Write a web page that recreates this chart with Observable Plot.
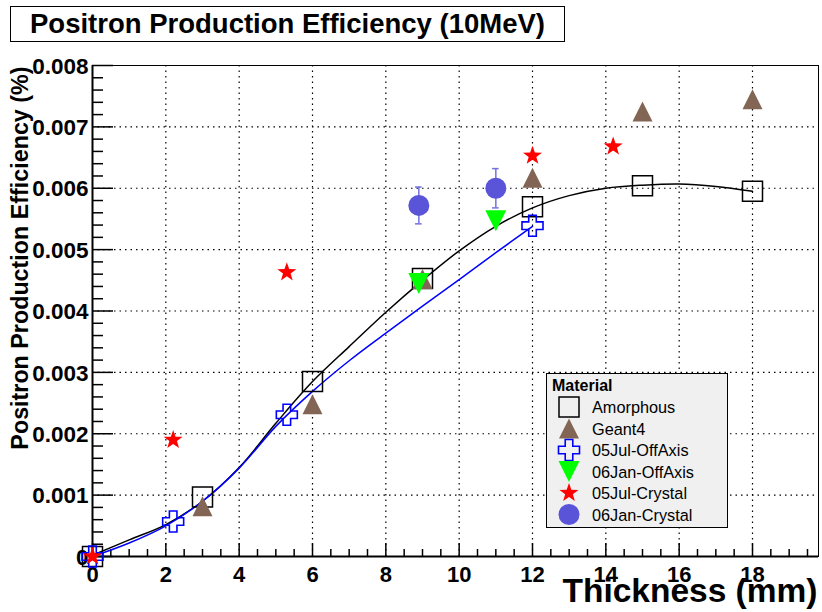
<!DOCTYPE html>
<html><head><meta charset="utf-8">
<script src="https://cdn.jsdelivr.net/npm/d3@7"></script>
<script src="https://cdn.jsdelivr.net/npm/@observablehq/plot@0.6"></script>
<style>
body{margin:0;background:#fff;}
#wrap{position:relative;width:822px;height:612px;overflow:hidden;font-family:"Liberation Sans",Arial,Helvetica,sans-serif;}
#wrap svg{position:absolute;left:0;top:0;}
#title{position:absolute;left:10px;top:6px;width:553px;height:34px;border:1px solid #000;background:#fff;font-weight:bold;font-size:27.5px;line-height:34px;text-align:center;color:#000;}
#legend{position:absolute;left:546px;top:373px;width:180px;height:153px;border:1px solid #000;background:#f0f0f0;}
#legend svg{position:absolute;left:0;top:0;}
</style></head>
<body><div id="wrap"><div id="title">Positron Production Efficiency (10MeV)</div></div>
<script>
// ---------- data ----------
const amorphX = [0, 3, 6, 9, 12, 15, 18];
const amorphY = [0.00000, 0.00097, 0.00285, 0.00453, 0.00570, 0.00604, 0.00595];
const geantX = [3, 6, 9, 12, 15, 18];
const geantY = [0.00082, 0.00248, 0.00452, 0.00617, 0.00725, 0.00745];
const jul05OffX = [0, 2.2, 5.3, 12];
const jul05OffY = [0.00000, 0.00057, 0.00231, 0.00539];
const jan06OffX = [8.9, 11];
const jan06OffY = [0.00445, 0.00547];
const jul05CrysX = [0, 2.2, 5.3, 12, 14.2];
const jul05CrysY = [0.00000, 0.00190, 0.00463, 0.00653, 0.00668];
const jan06CrysX = [8.9, 11];
const jan06CrysY = [0.00572, 0.00600];
const jan06CrysErr = [0.00030, 0.00032];
// fitted curves
const fitBlackX = [0,1,2,3,4,5,6,7,8,9,10,11,12,13,14,15,16,17,18];
const fitBlackY = [0.00002,0.00027,0.00052,0.00090,0.00145,0.00217,0.00285,0.00342,0.00398,0.00450,0.00498,0.00538,0.00568,0.00588,0.00600,0.00605,0.00607,0.00603,0.00595];
const fitBlueX = [0,1,2,3,4,5,6,7,8,9,10,11,12];
const fitBlueY = [0.00000,0.00022,0.00050,0.00090,0.00144,0.00212,0.00269,0.00319,0.00364,0.00408,0.00451,0.00495,0.00538];
// ticks
const xMajor = [0,2,4,6,8,10,12,14,16,18];
const xMinor = d3.range(0.5, 19.8, 0.5).filter(d => d % 2 !== 0);
const yMajor = [0,0.001,0.002,0.003,0.004,0.005,0.006,0.007,0.008];
const yMinor = d3.range(1, 40).filter(i => i % 5 !== 0).map(i => i * 0.0002);
const legendLabels = ["Amorphous","Geant4","05Jul-OffAxis","06Jan-OffAxis","05Jul-Crystal","06Jan-Crystal"];

// ---------- symbols (ROOT-like, bbox centred) ----------
const rOf = size => Math.sqrt(size / Math.PI);
const symSquare = {draw(c, size){ const s = rOf(size); c.moveTo(-s,-s); c.lineTo(s,-s); c.lineTo(s,s); c.lineTo(-s,s); c.closePath(); }};
const symTriUp = {draw(c, size){ const s = rOf(size); c.moveTo(0,-s); c.lineTo(s,s); c.lineTo(-s,s); c.closePath(); }};
const symTriDown = {draw(c, size){ const s = rOf(size); c.moveTo(0,s); c.lineTo(s,-s); c.lineTo(-s,-s); c.closePath(); }};
const symCross = {draw(c, size){ const s = rOf(size), w = s*0.36;
  const p = [[-w,-s],[w,-s],[w,-w],[s,-w],[s,w],[w,w],[w,s],[-w,s],[-w,w],[-s,w],[-s,-w],[-w,-w]];
  c.moveTo(p[0][0],p[0][1]); for (let i=1;i<p.length;i++) c.lineTo(p[i][0],p[i][1]); c.closePath(); }};
const symStar = {draw(c, size){ const s = rOf(size), ri = s*0.40;
  for (let i=0;i<10;i++){ const r = i%2 ? ri : s; const a = -Math.PI/2 + i*Math.PI/5;
    const x = r*Math.cos(a), y = r*Math.sin(a); if (i===0) c.moveTo(x,y); else c.lineTo(x,y);} c.closePath(); }};
const symCircle = {draw(c, size){ const s = rOf(size); c.moveTo(s,0); c.arc(0,0,s,0,2*Math.PI); }};

const styles = [
  {symbol: symSquare, r: 10, fill: "none", stroke: "#000", strokeWidth: 1.5},
  {symbol: symTriUp, r: 10, fill: "#836556", stroke: "none"},
  {symbol: symCross, r: 10.5, fill: "none", stroke: "#0000ff", strokeWidth: 1.6},
  {symbol: symTriDown, r: 10.5, fill: "#00ff00", stroke: "none"},
  {symbol: symStar, r: 10, fill: "#ff0000", stroke: "none"},
  {symbol: symCircle, r: 10.5, fill: "#5954d8", stroke: "none"}
];

const pts = (X, Y) => X.map((x, i) => [x, Y[i]]);
const frameH = 612 - 65 - 56, frameW = 822 - 92 - 4;
const fmtY = d => d === 0 ? "0" : d.toFixed(3);

const chart = Plot.plot({
  width: 822, height: 612,
  marginLeft: 92, marginRight: 4, marginTop: 65, marginBottom: 56,
  style: {fontFamily: "Liberation Sans, Arial, Helvetica, sans-serif", background: "transparent", overflow: "visible", color: "#000"},
  x: {domain: [0, 19.8], axis: null},
  y: {domain: [0, 0.008], axis: null},
  marks: [
    // grid
    Plot.ruleX(xMajor.filter(d => d > 0), {x: d => d, stroke: "#000", strokeWidth: 1.2, strokeDasharray: "1.5,4"}),
    Plot.ruleY(yMajor.filter(d => d > 0 && d < 0.008), {y: d => d, stroke: "#000", strokeWidth: 1.2, strokeDasharray: "1.5,4"}),
    Plot.frame({stroke: "#000", strokeWidth: 1}),
    // ticks (inside)
    Plot.ruleX(xMajor, {x: d => d, insetTop: frameH - 13, stroke: "#000", strokeWidth: 1.5}),
    Plot.ruleX(xMinor, {x: d => d, insetTop: frameH - 7, stroke: "#000", strokeWidth: 1.5}),
    Plot.ruleY(yMajor, {y: d => d, insetRight: frameW - 21, stroke: "#000", strokeWidth: 1.5}),
    Plot.ruleY(yMinor, {y: d => d, insetRight: frameW - 11, stroke: "#000", strokeWidth: 1.5}),
    Plot.ruleX([0], {x: d => d, stroke: "#000", strokeWidth: 2}),
    Plot.ruleY([0], {y: d => d, stroke: "#000", strokeWidth: 2}),
    // tick labels
    Plot.text(xMajor, {x: d => d, frameAnchor: "bottom", dy: 10, lineAnchor: "top", textAnchor: "middle", text: d => String(d), fontSize: 22, fontWeight: "bold", fill: "#000"}),
    Plot.text(yMajor, {y: d => d, frameAnchor: "left", dx: -4, dy: 1, lineAnchor: "middle", textAnchor: "end", text: fmtY, fontSize: 22.5, fontWeight: "bold", fill: "#000"}),
    // axis titles
    Plot.text(["Thickness (mm)"], {frameAnchor: "bottom-right", dx: -1, dy: 45, textAnchor: "end", lineAnchor: "bottom", fontSize: 33.5, fontWeight: "bold", fill: "#000"}),
    Plot.text(["Positron Production Efficiency (%)"], {frameAnchor: "top-left", dx: -65, dy: 1, rotate: -90, textAnchor: "end", lineAnchor: "bottom", fontSize: 23.3, fontWeight: "bold", fill: "#000"}),
    // fit curves
    Plot.line(pts(fitBlackX, fitBlackY), {stroke: "#000", strokeWidth: 1.5, curve: "catmull-rom"}),
    Plot.line(pts(fitBlueX, fitBlueY), {stroke: "#0000ff", strokeWidth: 1.5, curve: "catmull-rom"}),
    // points
    Plot.dot(pts(amorphX, amorphY), {x: d => d[0], y: d => d[1], ...styles[0]}),
    Plot.dot(pts(geantX, geantY), {x: d => d[0], y: d => d[1], ...styles[1]}),
    Plot.dot(pts(jul05OffX, jul05OffY), {x: d => d[0], y: d => d[1], ...styles[2]}),
    Plot.dot(pts(jan06OffX, jan06OffY), {x: d => d[0], y: d => d[1], ...styles[3]}),
    Plot.dot(pts(jul05CrysX, jul05CrysY), {x: d => d[0], y: d => d[1], ...styles[4]}),
    // error bars + circles
    Plot.ruleX(jan06CrysX.map((x, i) => [x, jan06CrysY[i], jan06CrysErr[i]]), {x: d => d[0], y1: d => d[1] - d[2], y2: d => d[1] + d[2], stroke: "#7471e0", strokeWidth: 1.5}),
    Plot.ruleY(jan06CrysX.flatMap((x, i) => [[x, jan06CrysY[i] - jan06CrysErr[i]], [x, jan06CrysY[i] + jan06CrysErr[i]]]), {y: d => d[1], x1: d => d[0] - 0.09, x2: d => d[0] + 0.09, stroke: "#7471e0", strokeWidth: 1.5}),
    Plot.dot(pts(jan06CrysX, jan06CrysY), {x: d => d[0], y: d => d[1], ...styles[5]})
  ]
});
const wrap = document.getElementById("wrap");
wrap.insertBefore(chart, wrap.firstChild);

// ---------- legend ----------
const leg = document.createElement("div");
leg.id = "legend";
wrap.appendChild(leg);
const lsvg = d3.select(leg).append("svg").attr("width", 180).attr("height", 153)
  .style("font-family", "Liberation Sans, Arial, Helvetica, sans-serif");
lsvg.append("text").attr("x", 5).attr("y", 17).attr("font-size", 16).attr("font-weight", "bold").attr("fill", "#000").text("Material");
legendLabels.forEach((lab, i) => {
  const cy = 33 + i * 21.5;
  const st = styles[i];
  lsvg.append("path")
    .attr("transform", `translate(22,${cy})`)
    .attr("d", d3.symbol(st.symbol, st.r * st.r * Math.PI)())
    .attr("fill", st.fill).attr("stroke", st.stroke).attr("stroke-width", st.strokeWidth || 0);
  lsvg.append("text").attr("x", 45).attr("y", cy + 6).attr("font-size", 16.3).attr("fill", "#000").text(lab);
});
</script>
</body></html>
